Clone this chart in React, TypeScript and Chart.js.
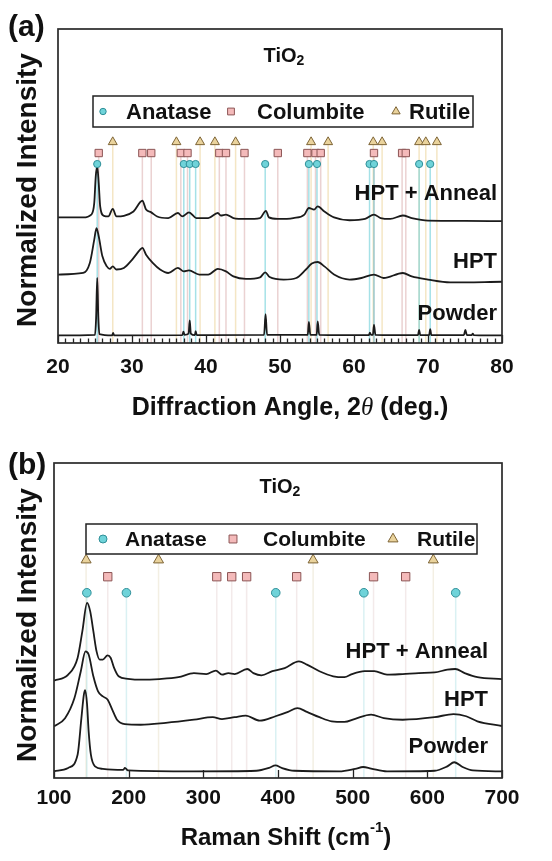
import React, { useEffect, useRef } from "react";
import { Chart, registerables } from "chart.js";

Chart.register(...registerables);

type Pt = [number, number];

// ---------------- Panel (a): XRD ----------------
const XRD_TICKS = [20, 30, 40, 50, 60, 70, 80];
const XRD_ANATASE = [25.3, 37.0, 37.8, 38.6, 48.0, 53.9, 55.0, 62.1, 62.7, 68.8, 70.3];
const XRD_COLUMBITE = [25.5, 31.4, 32.6, 36.6, 37.5, 41.8, 42.7, 45.2, 49.7, 53.7, 54.8, 55.5, 62.7, 66.5, 67.0];
const XRD_RUTILE = [27.4, 36.0, 39.2, 41.2, 44.0, 54.2, 56.5, 62.6, 63.8, 68.8, 69.7, 71.2];

const XRD_HPT_ANNEAL: Pt[] = [
  [20, 40.0], [23.4, 40.0], [24.5, 40.9], [24.9, 44.6], [25.1, 53], [25.3, 56.3], [25.5, 51],
  [25.7, 43.5], [26.2, 40.5], [26.8, 40.3], [27.4, 42.7], [27.9, 40.3], [28.9, 40.5], [30.2, 41.9],
  [31.4, 45.3], [31.9, 42.5], [32.6, 41.6], [33.4, 40.3], [34.9, 39.8], [36.2, 41.4], [36.8, 40.3],
  [37.7, 41.6], [38.7, 39.8], [40.3, 39.8], [41.6, 41.4], [42.0, 40.6], [42.7, 40.9], [43.7, 39.8],
  [45.4, 39.5], [47.3, 39.8], [48.1, 42.1], [48.5, 40.0], [49.7, 39.5], [51.8, 39.8], [53.3, 40.9],
  [53.9, 43.0], [54.6, 42.5], [55.1, 43.5], [56.0, 41.9], [57.3, 40.0], [59.4, 39.1], [61.5, 39.5],
  [62.7, 40.9], [63.6, 39.8], [64.9, 39.5], [66.6, 40.6], [67.8, 39.8], [70.0, 39.0], [75.0, 38.9],
  [80, 38.8],
];
const XRD_HPT: Pt[] = [
  [20, 21.8], [23.4, 22.3], [24.3, 25.5], [24.9, 32.9], [25.2, 36.6], [25.5, 34], [26.0, 27.6],
  [26.6, 24.4], [27.0, 23.6], [27.4, 24.4], [27.9, 23.4], [28.9, 23.9], [30.0, 26.5], [31.1, 29.7],
  [31.4, 30.3], [31.9, 28.1], [32.8, 25.5], [33.8, 23.4], [34.9, 22.3], [36.2, 23.9], [37.0, 22.8],
  [37.7, 23.1], [39.1, 21.8], [40.3, 21.8], [41.6, 23.6], [42.7, 22.8], [43.7, 21.2], [45.4, 20.4],
  [47.3, 20.9], [48.0, 22.5], [48.6, 21.0], [50.5, 20.2], [52.2, 20.7], [53.5, 23.4], [54.3, 25.3],
  [55.1, 25.8], [56.0, 24.4], [57.3, 21.8], [59.4, 20.2], [61.0, 20.7], [62.7, 21.8], [64.0, 20.7],
  [66.6, 22.3], [67.8, 21.2], [70.0, 20.2], [73, 19.3], [80, 19.5],
];
const XRD_POWDER: Pt[] = [
  [20, 2.4], [25.0, 2.6], [25.15, 8], [25.3, 20.7], [25.45, 8], [25.6, 2.8], [27.3, 2.4], [27.45, 3.2],
  [27.6, 2.4], [36.8, 2.5], [36.95, 3.6], [37.1, 2.6], [37.65, 3.0], [37.8, 7.2], [37.95, 3.0],
  [38.5, 2.5], [38.6, 3.8], [38.75, 2.5], [47.85, 2.6], [48.05, 9.2], [48.25, 2.6], [53.75, 2.6],
  [53.9, 6.7], [54.1, 2.6], [54.95, 2.6], [55.1, 6.9], [55.3, 2.6], [62.0, 2.5], [62.15, 3.3],
  [62.3, 2.6], [62.55, 2.6], [62.7, 5.8], [62.9, 2.6], [68.65, 2.5], [68.8, 4.2], [68.95, 2.5],
  [70.15, 2.5], [70.3, 4.4], [70.45, 2.5], [74.85, 2.5], [75.05, 4.2], [75.25, 2.5], [75.9, 2.5],
  [76.05, 3.0], [76.2, 2.5], [80, 2.4],
];

// ---------------- Panel (b): Raman ----------------
const RAMAN_TICKS = [100, 200, 300, 400, 500, 600, 700];
const RAMAN_ANATASE = [144, 197, 397, 515, 638];
const RAMAN_COLUMBITE = [172, 318, 338, 358, 425, 528, 571];
const RAMAN_RUTILE = [143, 240, 447, 608];

const RAMAN_HPT_ANNEAL: Pt[] = [
  [100, 30.9], [119, 32.8], [131.6, 38.1], [138, 46.6], [144.3, 55.6], [148.5, 52.9], [152.7, 46.6],
  [157, 40.2], [161.2, 37.6], [165.4, 37.6], [171.7, 38.9], [176, 38.1], [180.2, 35.1], [186.5, 32.3],
  [199, 31.5], [216, 31.2], [241, 31.4], [266.7, 32], [287.4, 33.3], [304, 33], [316.8, 34.1],
  [325, 32.8], [333.6, 33.3], [342, 33], [358.8, 34.6], [367, 33.3], [377.7, 32.6], [392.4, 33.9],
  [409, 34.9], [428, 37], [438.7, 36], [455.5, 33.9], [474, 32.3], [489, 32], [499, 33], [516, 33.9],
  [529, 33.9], [546, 32.8], [567, 33], [588.5, 33.3], [609.8, 33.5], [626.8, 34.4], [637.4, 34.6],
  [650, 33.3], [667, 32], [700, 31.4],
];
const RAMAN_HPT: Pt[] = [
  [100, 16.4], [114.8, 19], [127.4, 25.4], [135.9, 33.9], [142.2, 40.2], [146.4, 39.2], [152.7, 32.3],
  [159, 27.5], [165.4, 25.9], [171.7, 24.9], [178, 21.7], [184.4, 18.5], [194.9, 17.1], [216, 16.9],
  [249.8, 17.5], [287.4, 18.5], [312.6, 19.3], [325, 18.7], [342, 19.3], [356.7, 19.8], [375.6, 18.2],
  [396.6, 19.6], [413.4, 21], [426, 22.2], [438.7, 21], [455.5, 19.3], [472, 18], [489, 17.8],
  [503.4, 18.8], [524.7, 20.1], [541.7, 19], [567, 18.5], [609.8, 19.3], [635, 20.3], [652, 19.6],
  [667, 18], [700, 16.5],
];
const RAMAN_POWDER: Pt[] = [
  [100, 2.1], [119, 3.2], [131.6, 7.4], [136.7, 19], [140, 26.5], [141.8, 27.9], [144.3, 23.3],
  [146.4, 14.8], [149.4, 7.4], [154.9, 3.7], [165.4, 2.9], [192.8, 2.6], [195, 3.2], [199, 2.4],
  [287.4, 2.1], [371, 2.3], [388, 3.2], [396.6, 4.0], [405, 3.2], [421.8, 2.3], [482, 2.1],
  [503.4, 2.9], [514, 3.5], [524.7, 3.0], [546, 2.1], [609.8, 2.3], [626.8, 3.7], [636, 5.0],
  [648, 3.4], [661, 2.4], [700, 2.1],
];

const SAMPLE_LABELS = ["HPT + Anneal", "HPT", "Powder"];
const PHASE_LABELS = ["Anatase", "Columbite", "Rutile"];

// ---------------- styling ----------------
const FONT = '"Liberation Sans", Arial, Helvetica, sans-serif';
const SHAPES = ["circle", "rect", "triangle"];
const FILLS = ["#6fd3d9", "#f4baba", "#ead39c"];
const STROKES = ["#2f8f98", "#8c5555", "#7d6436"];

type Shape = string;

function drawMarker(ctx: CanvasRenderingContext2D, shape: Shape, x: number, y: number, r: number, fill: string, stroke: string) {
  ctx.save();
  ctx.beginPath();
  if (shape === "circle") ctx.arc(x, y, r, 0, Math.PI * 2);
  else if (shape === "rect") {
    const s = r * Math.SQRT1_2;
    ctx.rect(x - s, y - s, 2 * s, 2 * s);
  } else {
    for (let i = 0; i < 3; i++) {
      const a = (i * 2 * Math.PI) / 3;
      const px = x + Math.sin(a) * r;
      const py = y - Math.cos(a) * r;
      if (i === 0) ctx.moveTo(px, py);
      else ctx.lineTo(px, py);
    }
    ctx.closePath();
  }
  ctx.fillStyle = fill;
  ctx.fill();
  ctx.lineWidth = 1;
  ctx.strokeStyle = stroke;
  ctx.stroke();
  ctx.restore();
}

type Part = { t: string; font: string; dy?: number };
function drawRich(ctx: CanvasRenderingContext2D, parts: Part[], cx: number, cy: number, align = "center") {
  let total = 0;
  parts.forEach((p) => {
    ctx.font = p.font;
    total += ctx.measureText(p.t).width;
  });
  let x = align === "center" ? cx - total / 2 : align === "right" ? cx - total : cx;
  ctx.textAlign = "left";
  ctx.textBaseline = "middle";
  ctx.fillStyle = "#111";
  parts.forEach((p) => {
    ctx.font = p.font;
    ctx.fillText(p.t, x, cy + (p.dy || 0));
    x += ctx.measureText(p.t).width;
  });
}

type LegendSpec = {
  box: [number, number, number, number];
  markerX: number[];
  textX: number[];
  radii: number[];
  fontSize: number;
};

function drawLegend(ctx: CanvasRenderingContext2D, lg: LegendSpec) {
  const [x, y, w, h] = lg.box;
  ctx.save();
  ctx.fillStyle = "#fff";
  ctx.fillRect(x, y, w, h);
  ctx.lineWidth = 1.5;
  ctx.strokeStyle = "#222";
  ctx.strokeRect(x, y, w, h);
  const cy = y + h / 2;
  PHASE_LABELS.forEach((label, i) => {
    drawMarker(ctx, SHAPES[i], lg.markerX[i], cy, lg.radii[i], FILLS[i], STROKES[i]);
    ctx.font = `bold ${lg.fontSize}px ${FONT}`;
    ctx.fillStyle = "#111";
    ctx.textAlign = "left";
    ctx.textBaseline = "middle";
    ctx.fillText(label, lg.textX[i], cy + 1);
  });
  ctx.restore();
}

type PanelSpec = {
  width: number;
  height: number;
  area: { left: number; top: number; right: number; bottom: number };
  xMin: number;
  xMax: number;
  ticks: number[];
  tickFont: number;
  tickPad: number;
  curves: Pt[][];
  phases: number[][];
  rows: number[];
  radii: number[];
  lineColors: string[];
  minorStep: number;
  majorStep: number;
  majorLen: number;
  minorLen: number;
  decorate: (ctx: CanvasRenderingContext2D, chart: any) => void;
};

const AXIS_H = 45;

function buildConfig(spec: PanelSpec): any {
  const datasets: any[] = [];
  spec.phases.forEach((pos, i) => {
    const pts: any[] = [];
    pos.forEach((p) => {
      pts.push({ x: p, y: spec.rows[i] }, { x: p, y: 0 }, { x: p, y: null });
    });
    datasets.push({
      data: pts,
      borderColor: spec.lineColors[i],
      borderWidth: 1.5,
      pointRadius: 0,
      spanGaps: false,
      tension: 0,
      order: 3,
    });
  });
  spec.curves.forEach((c) => {
    datasets.push({
      data: c.map(([x, y]) => ({ x, y })),
      borderColor: "#1b1b1b",
      borderWidth: 1.8,
      pointRadius: 0,
      cubicInterpolationMode: "monotone",
      order: 2,
    });
  });
  spec.phases.forEach((pos, i) => {
    datasets.push({
      data: pos.map((p) => ({ x: p, y: spec.rows[i] })),
      showLine: false,
      pointStyle: SHAPES[i],
      pointRadius: spec.radii[i],
      pointBackgroundColor: FILLS[i],
      pointBorderColor: STROKES[i],
      pointBorderWidth: 1,
      order: 0,
    });
  });

  const decor = {
    id: "decor",
    afterDraw(chart: any) {
      const ctx: CanvasRenderingContext2D = chart.ctx;
      const { left, top, right, bottom } = chart.chartArea;
      const xs = chart.scales.x;
      ctx.save();
      ctx.strokeStyle = "#222";
      ctx.lineWidth = 1.3;
      ctx.beginPath();
      for (let v = spec.xMin; v <= spec.xMax + 1e-9; v += spec.minorStep) {
        const px = Math.round(xs.getPixelForValue(v)) + 0.5;
        const rem = Math.abs(((v - spec.xMin) / spec.majorStep) - Math.round((v - spec.xMin) / spec.majorStep));
        const len = rem < 1e-6 ? spec.majorLen : spec.minorLen;
        if (len <= 0) continue;
        ctx.moveTo(px, bottom);
        ctx.lineTo(px, bottom - len);
      }
      ctx.stroke();
      ctx.lineWidth = 1.7;
      ctx.strokeStyle = "#2a2a2a";
      ctx.strokeRect(left, top, right - left, bottom - top);
      ctx.restore();
      ctx.save();
      spec.decorate(ctx, chart);
      ctx.restore();
    },
  };

  return {
    type: "line",
    data: { datasets },
    options: {
      responsive: false,
      animation: false,
      events: [],
      devicePixelRatio: 1,
      layout: {
        padding: {
          left: spec.area.left,
          right: spec.width - spec.area.right,
          top: spec.area.top,
          bottom: spec.height - spec.area.bottom - AXIS_H,
        },
      },
      plugins: { legend: { display: false }, tooltip: { enabled: false } },
      scales: {
        x: {
          type: "linear",
          min: spec.xMin,
          max: spec.xMax,
          grid: { display: false, drawTicks: false },
          border: { display: false },
          afterBuildTicks: (ax: any) => {
            ax.ticks = spec.ticks.map((v) => ({ value: v }));
          },
          afterFit: (ax: any) => {
            ax.height = AXIS_H;
          },
          ticks: {
            font: { family: FONT, size: spec.tickFont, weight: "bold" },
            color: "#111",
            padding: spec.tickPad,
            maxRotation: 0,
            autoSkip: false,
          },
        },
        y: { type: "linear", min: 0, max: 100, display: false },
      },
    },
    plugins: [decor],
  };
}

function drawYTitle(ctx: CanvasRenderingContext2D, x: number, y: number, size: number) {
  ctx.save();
  ctx.translate(x, y);
  ctx.rotate(-Math.PI / 2);
  ctx.font = `bold ${size}px ${FONT}`;
  ctx.fillStyle = "#111";
  ctx.textAlign = "center";
  ctx.textBaseline = "middle";
  ctx.fillText("Normalized Intensity", 0, 0);
  ctx.restore();
}

function drawSampleLabels(ctx: CanvasRenderingContext2D, right: number, ys: number[], size: number) {
  ctx.font = `bold ${size}px ${FONT}`;
  ctx.fillStyle = "#111";
  ctx.textAlign = "right";
  ctx.textBaseline = "middle";
  SAMPLE_LABELS.forEach((s, i) => ctx.fillText(s, right, ys[i]));
}

const XRD_SPEC: PanelSpec = {
  width: 552,
  height: 430,
  area: { left: 58, top: 29, right: 502, bottom: 343 },
  xMin: 20,
  xMax: 80,
  ticks: XRD_TICKS,
  tickFont: 21,
  tickPad: 12,
  curves: [XRD_HPT_ANNEAL, XRD_HPT, XRD_POWDER],
  phases: [XRD_ANATASE, XRD_COLUMBITE, XRD_RUTILE],
  rows: [57, 60.5, 64],
  radii: [3.6, 5.2, 5.2],
  lineColors: ["rgba(105,205,215,0.6)", "rgba(215,165,165,0.5)", "rgba(235,210,150,0.55)"],
  minorStep: 1,
  majorStep: 10,
  majorLen: 8,
  minorLen: 4.5,
  decorate: (ctx) => {
    ctx.font = `bold 30px ${FONT}`;
    ctx.fillStyle = "#111";
    ctx.textAlign = "left";
    ctx.textBaseline = "middle";
    ctx.fillText("(a)", 8, 28);
    drawRich(ctx, [
      { t: "TiO", font: `bold 20px ${FONT}` },
      { t: "2", font: `bold 14px ${FONT}`, dy: 5 },
    ], 284, 56);
    drawLegend(ctx, {
      box: [93, 96, 380, 31],
      markerX: [103, 231, 396],
      textX: [126, 257, 409],
      radii: [3.2, 4.8, 4.8],
      fontSize: 22,
    });
    drawSampleLabels(ctx, 497, [194, 262, 314], 22);
    drawRich(ctx, [
      { t: "Diffraction Angle, 2", font: `bold 25px ${FONT}` },
      { t: "\u03b8", font: `italic 25px "Liberation Serif", "DejaVu Serif", serif` },
      { t: " (deg.)", font: `bold 25px ${FONT}` },
    ], 290, 408);
    drawYTitle(ctx, 28, 190, 28);
  },
};

const RAMAN_SPEC: PanelSpec = {
  width: 552,
  height: 431,
  area: { left: 54, top: 33, right: 502, bottom: 348 },
  xMin: 100,
  xMax: 700,
  ticks: RAMAN_TICKS,
  tickFont: 21,
  tickPad: 8,
  curves: [RAMAN_HPT_ANNEAL, RAMAN_HPT, RAMAN_POWDER],
  phases: [RAMAN_ANATASE, RAMAN_COLUMBITE, RAMAN_RUTILE],
  rows: [58.8, 63.9, 69.2],
  radii: [4.3, 5.9, 5.8],
  lineColors: ["rgba(150,215,220,0.35)", "rgba(215,185,185,0.3)", "rgba(225,215,185,0.4)"],
  minorStep: 100,
  majorStep: 100,
  majorLen: 8,
  minorLen: 8,
  decorate: (ctx) => {
    ctx.font = `bold 30px ${FONT}`;
    ctx.fillStyle = "#111";
    ctx.textAlign = "left";
    ctx.textBaseline = "middle";
    ctx.fillText("(b)", 8, 36);
    drawRich(ctx, [
      { t: "TiO", font: `bold 20px ${FONT}` },
      { t: "2", font: `bold 14px ${FONT}`, dy: 5 },
    ], 280, 57);
    drawLegend(ctx, {
      box: [86, 94, 391, 30],
      markerX: [103, 233, 393],
      textX: [125, 263, 417],
      radii: [4, 5.6, 5.8],
      fontSize: 21,
    });
    drawSampleLabels(ctx, 488, [222, 270, 317], 22);
    drawRich(ctx, [
      { t: "Raman Shift (cm", font: `bold 24px ${FONT}` },
      { t: "-1", font: `bold 15px ${FONT}`, dy: -10 },
      { t: ")", font: `bold 24px ${FONT}` },
    ], 286, 408);
    drawYTitle(ctx, 28, 195, 28);
  },
};

function Panel({ spec, top }: { spec: PanelSpec; top: number }) {
  const ref = useRef<HTMLCanvasElement | null>(null);
  useEffect(() => {
    if (!ref.current) return;
    const chart = new Chart(ref.current, buildConfig(spec));
    return () => chart.destroy();
  }, [spec]);
  return (
    <canvas
      ref={ref}
      width={spec.width}
      height={spec.height}
      style={{ position: "absolute", left: 0, top, width: spec.width, height: spec.height, display: "block" }}
    />
  );
}

export default function App() {
  return (
    <div style={{ position: "absolute", left: 0, top: 0, width: 552, height: 861, background: "#fff", overflow: "hidden" }}>
      <Panel spec={XRD_SPEC} top={0} />
      <Panel spec={RAMAN_SPEC} top={430} />
    </div>
  );
}
